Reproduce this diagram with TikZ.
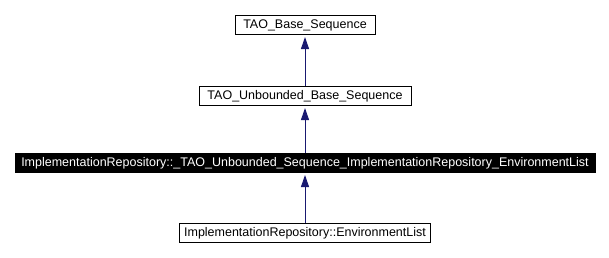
\documentclass[tikz,border=0pt]{standalone}
\usepackage{fontspec}
\setmainfont{Liberation Sans}
\usetikzlibrary{arrows.meta}

\definecolor{edgeblue}{HTML}{191970}

\tikzset{
	classbox/.style={draw=black,line width=1pt,fill=white,inner xsep=4pt,inner ysep=0pt,
		minimum height=19pt,font=\fontsize{12.5}{14}\selectfont},
	curclass/.style={classbox,fill=black,text=white},
	inherit/.style={edgeblue,line width=1pt,shorten >=2pt,
		-{Triangle[length=12pt,width=8pt]}}
}

\begin{document}
\begin{tikzpicture}[x=1pt,y=-1pt]
	\useasboundingbox (0,0) rectangle (609,257);
	\node[classbox,minimum width=140pt] (base) at (305,25) {TAO\_Base\_Sequence};
	\node[classbox,minimum width=212pt] (ubase) at (305,96) {TAO\_Unbounded\_Base\_Sequence};
	\node[curclass,minimum width=580pt] (useq) at (305,163) {ImplementationRepository::\_TAO\_Unbounded\_Sequence\_ImplementationRepository\_EnvironmentList};
	\node[classbox,minimum width=251pt] (envlist) at (305,233) {ImplementationRepository::EnvironmentList};
	% inheritance edges, child to parent
	\draw[inherit] (ubase) -- (base);
	\draw[inherit] (useq) -- (ubase);
	\draw[inherit] (envlist) -- (useq);
\end{tikzpicture}
\end{document}
